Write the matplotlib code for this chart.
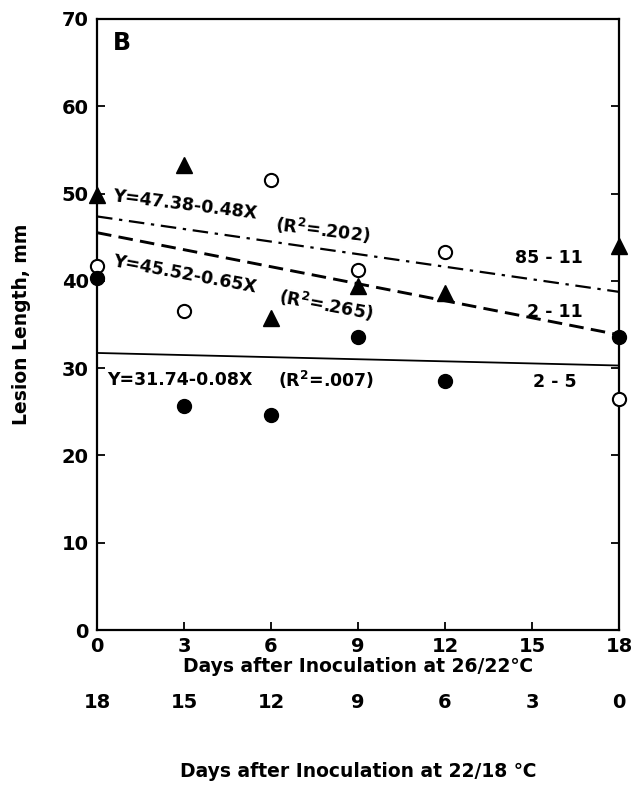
import matplotlib
matplotlib.use("Agg")
import matplotlib.pyplot as plt
import numpy as np

plt.rcParams['font.family'] = ['DejaVu Sans']

days = [0, 3, 6, 9, 12, 18]
open_circles = [41.7, 36.6, 51.6, 41.2, 43.3, 26.5]
triangles = [49.8, 53.3, 35.7, 39.4, 38.6, 44.0]
filled_circles = [40.3, 25.7, 24.6, 33.6, 28.5, 33.6]

fits = {
    "85 - 11": (47.38, -0.48),
    "2 - 11": (45.52, -0.65),
    "2 - 5": (31.74, -0.08),
}
x_ticks = [0, 3, 6, 9, 12, 15, 18]
y_ticks = [0, 10, 20, 30, 40, 50, 60, 70]
x_ticks2 = [18, 15, 12, 9, 6, 3, 0]

fig = plt.figure(figsize=(6.35, 7.94), dpi=100)
ax = fig.add_axes([97/635, 1 - 630/794, (619-97)/635, (630-19)/794])

ax.set_xlim(0, 18)
ax.set_ylim(0, 70)

xx = np.array([0, 18])
styles = {"85 - 11": (0, (7, 3, 1.5, 3)), "2 - 11": (0, (5, 2.5)), "2 - 5": "-"}
lws = {"85 - 11": 1.6, "2 - 11": 2.1, "2 - 5": 1.3}
for k, (a, b) in fits.items():
    ax.plot(xx, a + b * xx, color='black', linestyle=styles[k], lw=lws[k], zorder=2)

ax.plot(days, open_circles, 'o', ms=9.5, mfc='white', mec='black', mew=1.5, clip_on=False, zorder=3)
ax.plot(days, triangles, '^', ms=12, mfc='black', mec='black', clip_on=False, zorder=3)
ax.plot(days, filled_circles, 'o', ms=10, mfc='black', mec='black', clip_on=False, zorder=3)

tk = dict(fontsize=12.5, fontweight='bold', color='black')
ax.text(0.5, 48.7, "Y=47.38-0.48X", rotation=-7, ha='left', va='center', **tk)
ax.text(7.8, 45.8, "(R$^{\\mathbf{2}}$=.202)", rotation=-7, ha='center', va='center', **tk)
ax.text(0.5, 40.7, "Y=45.52-0.65X", rotation=-10.5, ha='left', va='center', **tk)
ax.text(7.9, 37.2, "(R$^{\\mathbf{2}}$=.265)", rotation=-10.5, ha='center', va='center', **tk)
ax.text(0.34, 28.6, "Y=31.74-0.08X", ha='left', va='center', **tk)
ax.text(7.9, 28.6, "(R$^{\\mathbf{2}}$=.007)", ha='center', va='center', **tk)
ax.text(15.6, 42.6, "85 - 11", ha='center', va='center', **tk)
ax.text(15.8, 36.4, "2 - 11", ha='center', va='center', **tk)
ax.text(15.8, 28.4, "2 - 5", ha='center', va='center', **tk)
ax.text(0.55, 67.3, "B", fontsize=17, fontweight='bold', ha='left', va='center')

ax.set_xticks(x_ticks)
ax.set_yticks(y_ticks)
ax.tick_params(axis='both', direction='in', length=6, width=1.3, labelsize=14)
ax.tick_params(axis='y', right=True, pad=6)
ax.tick_params(axis='x', pad=5)
for lab in ax.get_xticklabels() + ax.get_yticklabels():
    lab.set_fontweight('bold')
for s in ax.spines.values():
    s.set_linewidth(1.6)

ax.set_xlabel("Days after Inoculation at 26/22℃", fontsize=13.5, fontweight='bold', labelpad=1)
ax.set_ylabel("Lesion Length, mm", fontsize=13.5, fontweight='bold', labelpad=22)

sec = ax.secondary_xaxis(-0.095, functions=(lambda x: 18 - x, lambda x: 18 - x))
sec.set_xticks(x_ticks2)
sec.tick_params(length=0, labelsize=14)
for lab in sec.get_xticklabels():
    lab.set_fontweight('bold')
sec.spines['bottom'].set_visible(False)
sec.set_xlabel("Days after Inoculation at 22/18 ℃", fontsize=13.5, fontweight='bold', labelpad=36)

fig.savefig("out.png", dpi=100)
